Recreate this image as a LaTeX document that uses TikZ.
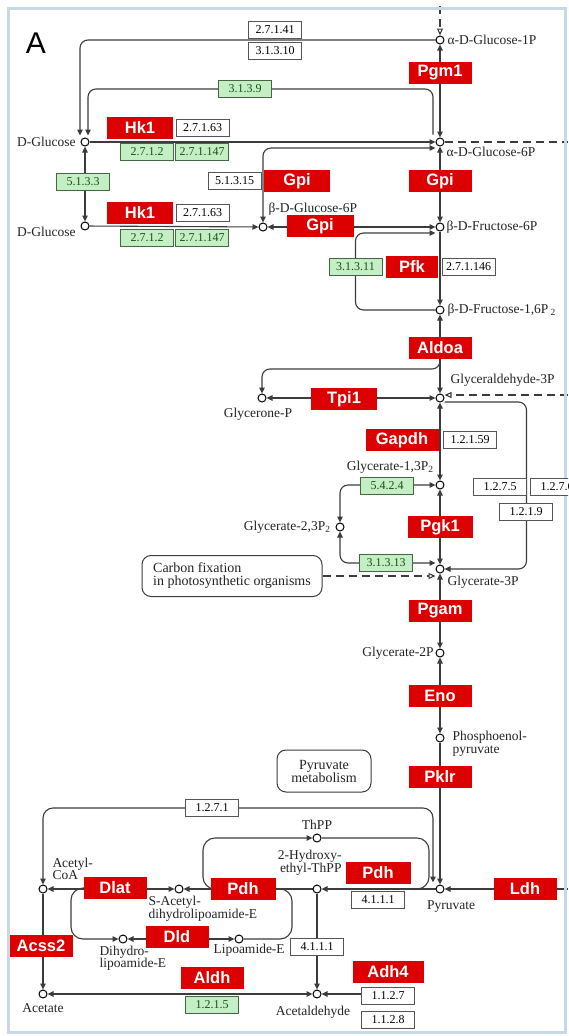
\documentclass[tikz,border=0pt]{standalone}
\usepackage{fontspec}
\setmainfont{Liberation Serif}
\newfontfamily\enzfont{Liberation Sans}
\usetikzlibrary{
    arrows.meta,
    calc,
    positioning
}
\pgfdeclarelayer{background}
\pgfsetlayers{background,main}
\definecolor{keggred}{RGB}{221,0,0}
\definecolor{ecgreen}{RGB}{196,238,196}
\definecolor{ecedge}{RGB}{85,85,85}
\definecolor{greenedge}{RGB}{70,100,70}
\definecolor{greentext}{RGB}{25,80,25}
\definecolor{linegray}{RGB}{60,60,60}
\definecolor{framecol}{RGB}{200,216,230}
\definecolor{labeltext}{RGB}{35,35,35}
\tikzset{
    every picture/.style = {
        > = {Triangle[length = 6pt, width = 5.5pt]},
        line width = 1pt
    },
    cpd/.style = {
        circle,
        draw = black,
        fill = white,
        inner sep = 0pt,
        minimum size = 8pt,
        line width = 1pt
    },
    enz/.style = {
        fill = keggred,
        text = white,
        font = \enzfont\bfseries\fontsize{16.5}{16.5}\selectfont,
        minimum width = 63pt,
        minimum height = 22pt,
        inner sep = 1pt,
        outer sep = 0pt
    },
    ec/.style = {
        draw = ecedge,
        fill = white,
        text = black,
        font = \fontsize{12}{12}\selectfont,
        minimum width = 53pt,
        minimum height = 17pt,
        inner sep = 0.5pt,
        outer sep = 0pt,
        line width = 1pt
    },
    ecg/.style = {ec, draw = greenedge, fill = ecgreen, text = greentext},
    lbl/.style = {
        font = \fontsize{13.5}{12.5}\selectfont,
        text = labeltext,
        inner sep = 0pt,
        align = left
    },
    pathwaybox/.style = {
        draw = linegray,
        rounded corners = 9pt,
        line width = 1pt,
        font = \fontsize{14}{13}\selectfont,
        text = labeltext,
        align = left
    },
    linkdash/.style = {dash pattern = on 8pt off 5pt},
    mapframe/.style = {draw = framecol, line width = 3pt}
}

\begin{document}
\begin{tikzpicture}[x = 1pt, y = -1pt]
    \useasboundingbox (0,0) rectangle (568,1036);
    \clip (0,0) rectangle (568,1036);
    \draw[mapframe] (8,8) rectangle (565.5,1032.5);
    \node[font = \enzfont\fontsize{30}{30}\selectfont] (panel) at (36,43) {A};

    % compounds
    \node[cpd] (g1p) at (440,40) {};
    \node[cpd] (glc1) at (85,142) {};
    \node[cpd] (g6p) at (440,142) {};
    \node[cpd] (glc2) at (85,226) {};
    \node[cpd] (bg6p) at (263,227) {};
    \node[cpd] (f6p) at (440,227) {};
    \node[cpd] (f16p) at (440,310) {};
    \node[cpd] (gap) at (440,398) {};
    \node[cpd] (dhap) at (262,398) {};
    \node[cpd] (bpg) at (440,485) {};
    \node[cpd] (dpg) at (340,527) {};
    \node[cpd] (pg3) at (440,569) {};
    \node[cpd] (pg2) at (440,653) {};
    \node[cpd] (pep) at (440,738) {};
    \node[cpd] (pyr) at (440,889) {};
    \node[cpd] (hethpp) at (317,889) {};
    \node[cpd] (thpp) at (317,838) {};
    \node[cpd] (sacet) at (179,889) {};
    \node[cpd] (accoa) at (43,889) {};
    \node[cpd] (dihydro) at (123,939) {};
    \node[cpd] (lipo) at (239,939) {};
    \node[cpd] (acetate) at (43,994) {};
    \node[cpd] (acald) at (317,994) {};

    \node[lbl, anchor = west] at (447,40) {α-D-Glucose-1P};
    \node[lbl, anchor = east] at (76,142) {D-Glucose};
    \node[lbl, anchor = west] at (446,152) {α-D-Glucose-6P};
    \node[lbl, anchor = east] at (76,232) {D-Glucose};
    \node[lbl, anchor = west] at (268,209) {β-D-Glucose-6P};
    \node[lbl, anchor = west] at (446,227) {β-D-Fructose-6P};
    \node[lbl, anchor = west] at (447,310) {β-D-Fructose-1,6P\,\textsubscript{2}};
    \node[lbl, anchor = west] at (450,380) {Glyceraldehyde-3P};
    \node[lbl] at (258,414) {Glycerone-P};
    \node[lbl, anchor = east] at (434,467) {Glycerate-1,3P\textsubscript{2}};
    \node[lbl, anchor = east] at (331,527) {Glycerate-2,3P\textsubscript{2}};
    \node[lbl, anchor = west] at (447,582) {Glycerate-3P};
    \node[lbl, anchor = east] at (434,653) {Glycerate-2P};
    \node[lbl, anchor = west] at (452,744) {Phosphoenol-\\pyruvate};
    \node[lbl] at (317,825) {ThPP};
    \node[lbl, anchor = east, align = right] at (342,863) {2-Hydroxy-\\ethyl-ThPP};
    \node[lbl, anchor = west] at (52,869) {Acetyl-\\CoA};
    \node[lbl, anchor = west] at (148,909) {S-Acetyl-\\dihydrolipoamide-E};
    \node[lbl] at (451,907) {Pyruvate};
    \node[lbl, anchor = west] at (99,958) {Dihydro-\\lipoamide-E};
    \node[lbl, anchor = west] at (213,950) {Lipoamide-E};
    \node[lbl] at (43,1008) {Acetate};
    \node[lbl] at (313,1012) {Acetaldehyde};

    % enzymes
    \node[enz] (pgm) at (440,73) {Pgm1};
    \node[enz, minimum width = 66pt] (hkA) at (140,128) {Hk1};
    \node[enz, minimum width = 66pt] (gpiA) at (297,181) {Gpi};
    \node[enz] (gpiB) at (440,181) {Gpi};
    \node[enz, minimum width = 66pt] (hkB) at (140,213) {Hk1};
    \node[enz, minimum width = 67pt] (gpiC) at (320,226) {Gpi};
    \node[enz, minimum width = 52pt] (pfk) at (412,267) {Pfk};
    \node[enz] (aldoa) at (440,348) {Aldoa};
    \node[enz, minimum width = 66pt] (tpi) at (344,399) {Tpi1};
    \node[enz, minimum width = 73pt] (gapdh) at (402,440) {Gapdh};
    \node[enz, minimum width = 65pt] (pgk) at (440,527) {Pgk1};
    \node[enz] (pgam) at (440,611) {Pgam};
    \node[enz] (eno) at (440,696) {Eno};
    \node[enz] (pklr) at (440,777) {Pklr};
    \node[enz] (dlat) at (115,888) {Dlat};
    \node[enz, minimum width = 65pt] (pdhA) at (243,889) {Pdh};
    \node[enz, minimum width = 65pt] (pdhB) at (378,873) {Pdh};
    \node[enz] (dld) at (177,937) {Dld};
    \node[enz] (acss) at (41,946) {Acss2};
    \node[enz] (aldh) at (212,978) {Aldh};
    \node[enz, minimum width = 71pt] (adh) at (388,972) {Adh4};
    \node[enz] (ldh) at (525,889) {Ldh};

    \node[ec] (e27141) at (275,30) {2.7.1.41};
    \node[ec, below = 4pt of e27141] (e31310) {3.1.3.10};
    \node[ecg] (e3139) at (245,89) {3.1.3.9};
    \node[ec, right = 3pt of hkA] (e27163a) {2.7.1.63};
    \node[ecg] (e2712a) at (147,152) {2.7.1.2};
    \node[ecg, right = 2pt of e2712a] (e271147a) {2.7.1.147};
    \node[ecg] (e5133) at (83,182) {5.1.3.3};
    \node[ec, left = 3pt of gpiA] (e51315) {5.1.3.15};
    \node[ec, right = 3pt of hkB] (e27163b) {2.7.1.63};
    \node[ecg] (e2712b) at (147,238) {2.7.1.2};
    \node[ecg, right = 2pt of e2712b] (e271147b) {2.7.1.147};
    \node[ecg, left = 4pt of pfk] (e31311) {3.1.3.11};
    \node[ec, right = 4pt of pfk] (e27146) {2.7.1.146};
    \node[ec, right = 5pt of gapdh] (e12159) {1.2.1.59};
    \node[ecg] (e5424) at (387,486) {5.4.2.4};
    \node[ec] (e1275) at (500,487) {1.2.7.5};
    \node[ec, right = 4pt of e1275] (e1276) {1.2.7.6};
    \node[ec] (e1219) at (526,512) {1.2.1.9};
    \node[ecg] (e31313) at (386,563) {3.1.3.13};
    \node[ec] (e1271) at (212,808) {1.2.7.1};
    \node[ec, below = 7pt of pdhB] (e4111a) {4.1.1.1};
    \node[ec] (e4111b) at (317,947) {4.1.1.1};
    \node[ec, below = 4.5pt of adh] (e1127) {1.1.2.7};
    \node[ec, below = 7pt of e1127] (e1128) {1.1.2.8};
    \node[ecg, below = 7.5pt of aldh] (e1215) {1.2.1.5};

    \node[pathwaybox, minimum width = 180pt, minimum height = 41pt] (carbon) at (232,576) {Carbon fixation\\in photosynthetic organisms};
    \node[pathwaybox, align = center, minimum width = 94pt, minimum height = 42pt] (pwy) at (324,771) {Pyruvate\\metabolism};

    \coordinate (g1pin) at (440,6);
    \coordinate (g6pout) at (568,142);
    \coordinate (gapin) at (568,395);
    \coordinate (ldhout) at (568,889);
    \coordinate (thppL) at (203,838);
    \coordinate (thppR) at (429,838);
    \coordinate (lipoL) at (71,939);
    \coordinate (lipoR) at (292,939);

    \begin{pgfonlayer}{background}
    \begin{scope}[color = linegray, line width = 1.1pt]
        \draw[linkdash, -{Triangle[open, length = 7pt, width = 6pt]}] (g1pin) -- (g1p);
        \draw[<->] (g1p) -- (g6p);
        \draw[->, rounded corners = 8pt] (g1p) -- (g1p -| e27141) -| ([xshift = -5pt, yshift = 2pt]glc1.north);
        \draw[->, rounded corners = 8pt] ([xshift = -7pt, yshift = 3pt]g6p.north) |- (e3139.center) -| ([xshift = 3pt, yshift = 2pt]glc1.north);
        \draw[->] (glc1) -- (g6p);
        \draw[linkdash] (g6p) -- (g6pout);
        \draw[<->, rounded corners = 8pt] (bg6p) |- ([yshift = -6pt]g6p.west);
        \draw[<->] (g6p) -- (f6p);
        \draw[<->] (glc1) -- (glc2);
        \draw[->] (glc2) -- (bg6p);
        \draw[<->] (bg6p) -- (f6p);
        \draw[->] (f6p) -- (f16p);
        \draw[->, rounded corners = 8pt] (f16p) -| (e31311.center) |- ([yshift = -6pt]f6p.west);
        \draw[<->] (f16p) -- (gap);
        \draw[->, rounded corners = 8pt] (aldoa.south) -- ++(0,10) -| (dhap);
        \draw[<->] (dhap) -- (gap);
        \draw[linkdash, -{Triangle[open, length = 7pt, width = 6pt]}] (gapin) -- ([yshift = 3pt]gap.east);
        \draw[->, rounded corners = 8pt] ([yshift = -4pt]gap.east) -| (e1275.east) |- (pg3);
        \draw[<->] (gap) -- (bpg);
        \draw[<->, rounded corners = 8pt] (bpg) -| (dpg);
        \draw[<->] (bpg) -- (pg3);
        \draw[<->, rounded corners = 8pt] (dpg) |- ([yshift = 6pt]pg3.west);
        \draw[linkdash, -{Triangle[open, length = 7pt, width = 6pt]}] (carbon.east) -- (carbon.east -| pg3.west);
        \draw[<->] (pg3) -- (pg2);
        \draw[<->] (pg2) -- (pep);
        \draw[->] (pep) -- (pyr);
        \draw[<->, rounded corners = 10pt] ([xshift = -7pt, yshift = 2pt]pyr.north) |- (e1271.center) -| (accoa);
        \draw[->, rounded corners = 12pt] (pdhA.center) -| (thppL) -- (thpp);
        \draw[rounded corners = 12pt] (thpp) -- (thppR) |- (pdhB.east |- pyr);
        \draw[->] (ldhout) -- (pyr);
        \draw[->] (pyr) -- (hethpp);
        \draw[->] (hethpp) -- (sacet);
        \draw[<->] (accoa) -- (sacet);
        \draw[->] (hethpp) -- (acald);
        \draw[->, rounded corners = 12pt] (dlat.center) -| (lipoL) -- (dihydro);
        \draw[<->] (dihydro) -- (lipo);
        \draw[rounded corners = 12pt] (lipo) -- (lipoR) |- (pdhA.center);
        \draw[->] (accoa) -- (acetate);
        \draw[<->] (acetate) -- (acald);
        \draw[->] (e1127.west |- acald) -- (acald);
    \end{scope}
    \end{pgfonlayer}
\end{tikzpicture}
\end{document}
